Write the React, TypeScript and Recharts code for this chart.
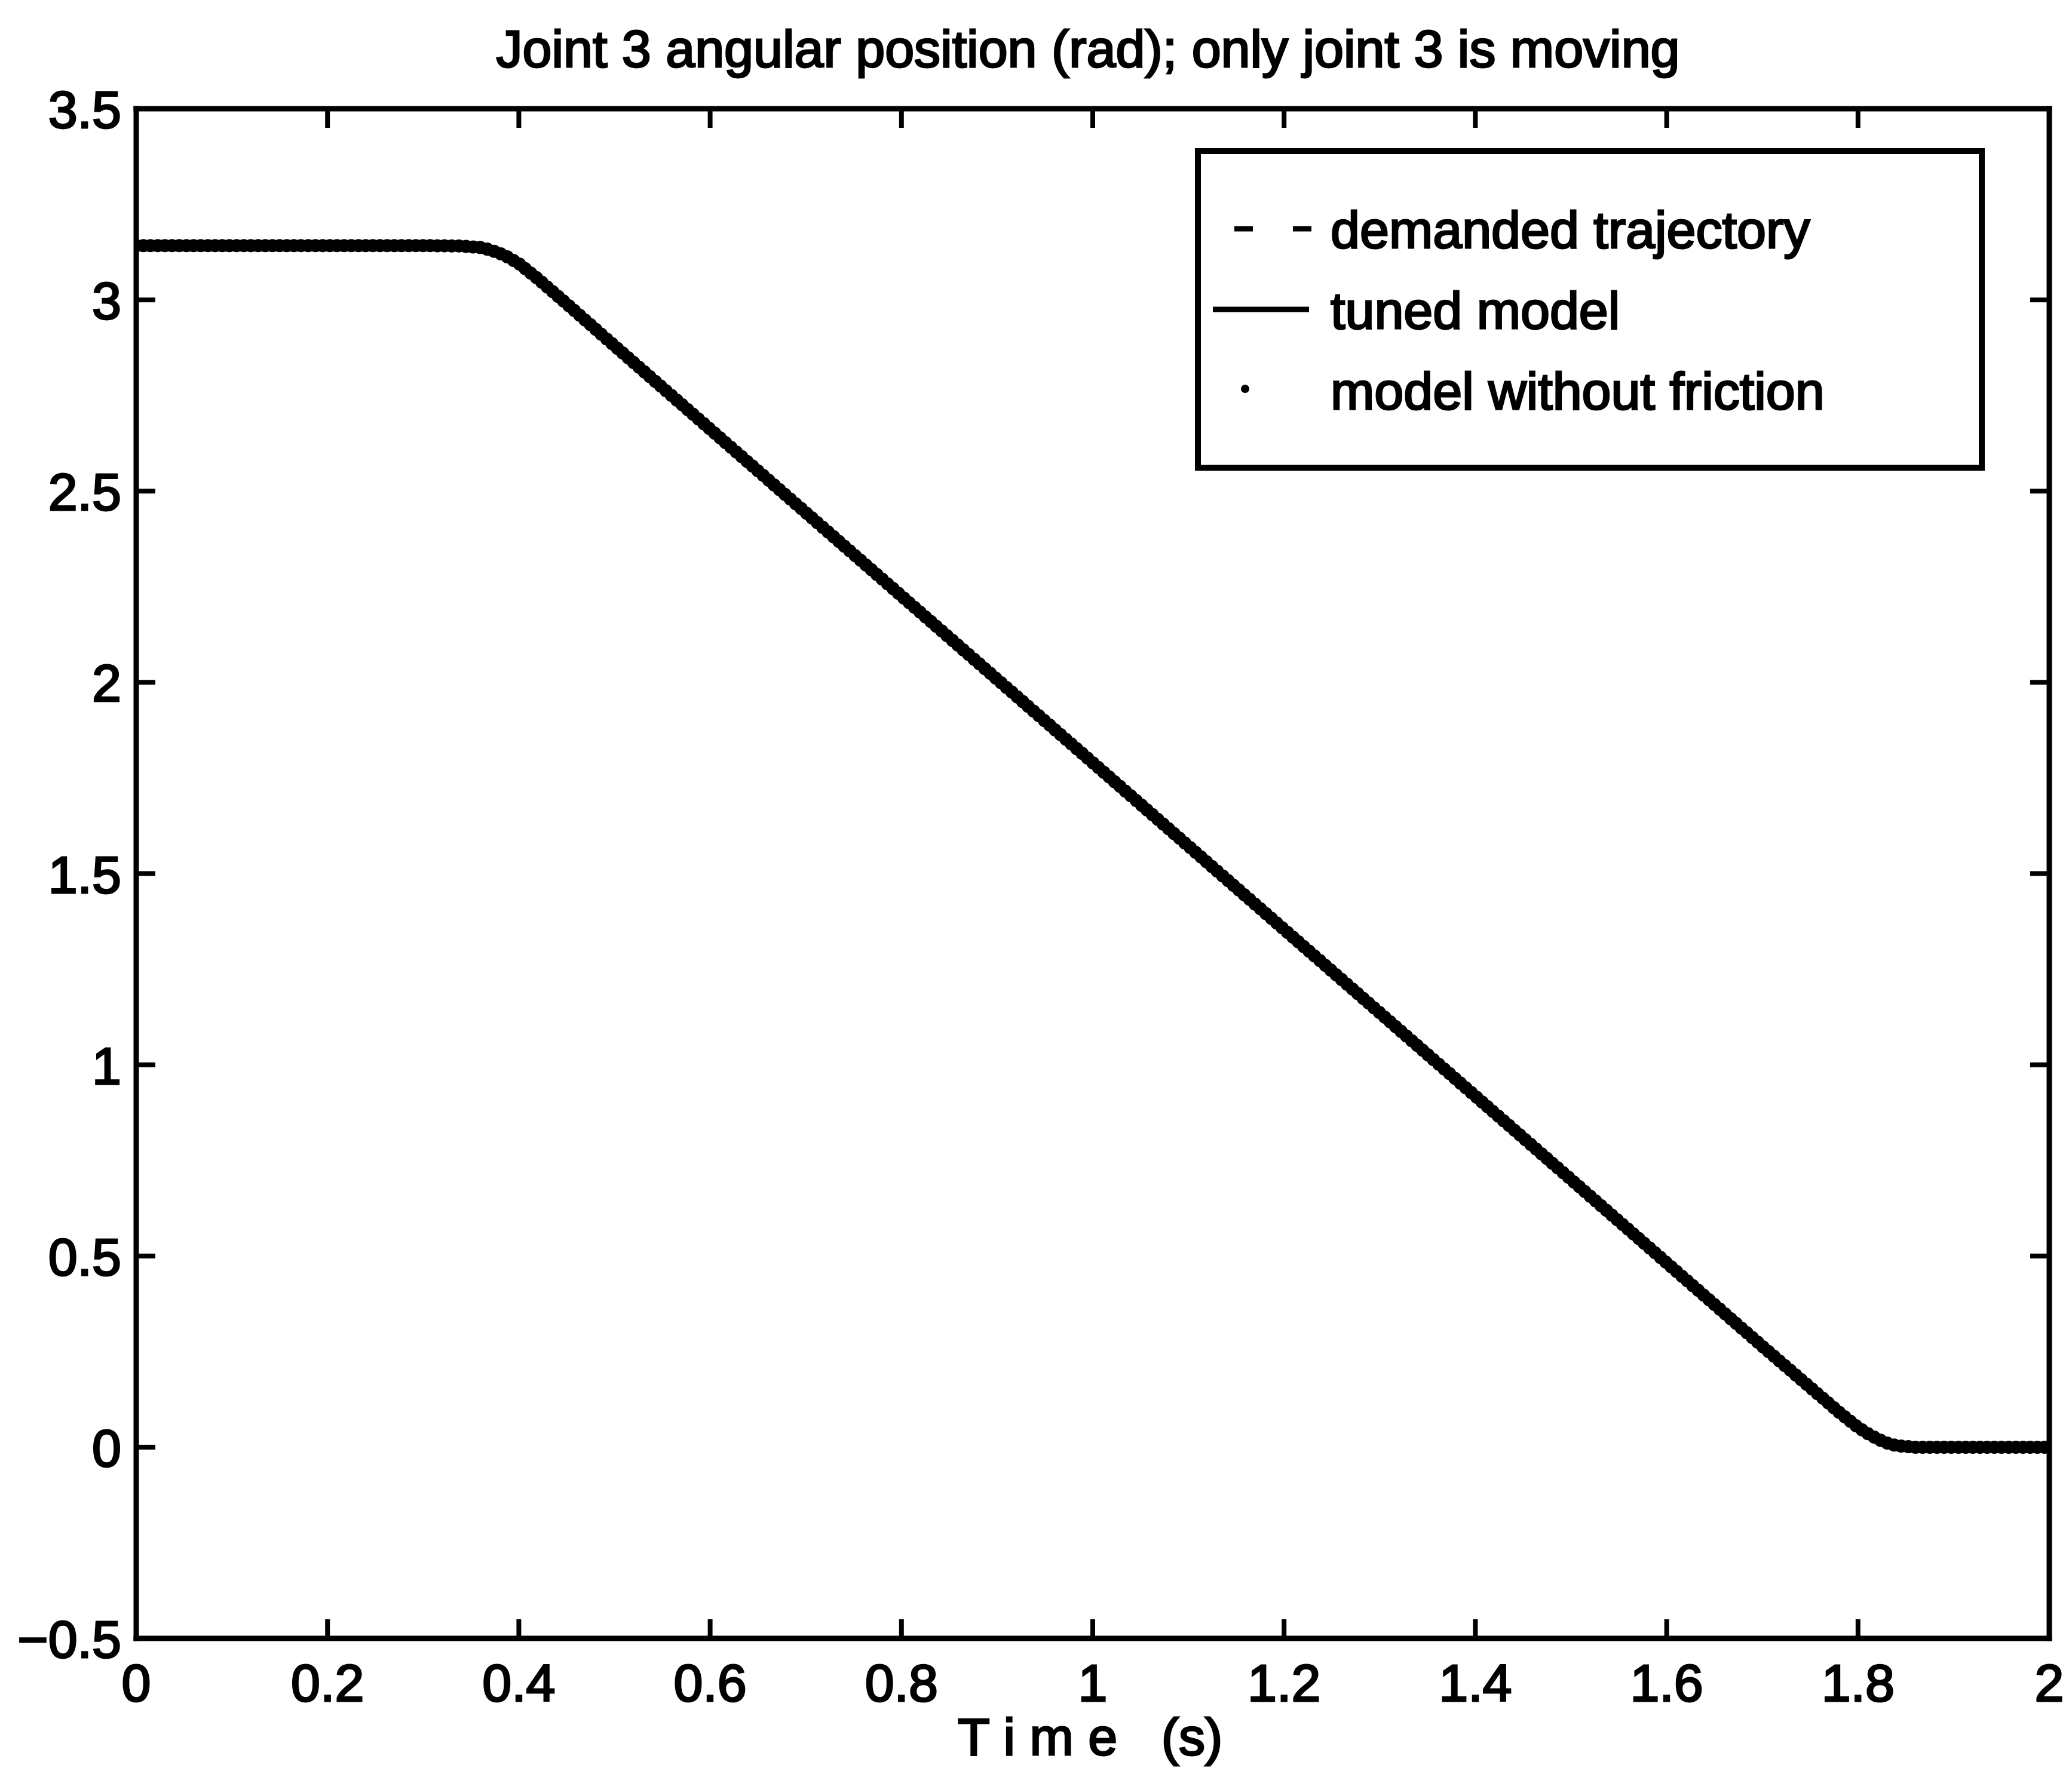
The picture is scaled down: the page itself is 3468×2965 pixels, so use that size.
import React from 'react';
import { LineChart, Line, XAxis, YAxis, Legend } from 'recharts';

const W = 3468;
const H = 2965;
const FONT = "'Liberation Sans', Arial, Helvetica, sans-serif";

// Time samples (s) and joint angle values (rad)
const time = [0, 0.1, 0.2, 0.3, 0.34, 0.36, 0.37, 0.38, 0.39, 0.40, 0.42, 0.45, 0.5, 0.6, 0.8, 1.0, 1.2, 1.4, 1.6, 1.7, 1.78, 1.80, 1.81, 1.82, 1.83, 1.84, 1.86, 1.9, 2.0];
const demanded = [3.142, 3.142, 3.142, 3.142, 3.141, 3.137, 3.131, 3.122, 3.110, 3.095, 3.055, 2.990, 2.880, 2.662, 2.226, 1.790, 1.354, 0.918, 0.482, 0.264, 0.092, 0.052, 0.036, 0.022, 0.011, 0.004, 0.0, 0.0, 0.0];
const tunedModel = [3.142, 3.142, 3.142, 3.142, 3.141, 3.137, 3.131, 3.122, 3.110, 3.095, 3.055, 2.990, 2.880, 2.662, 2.226, 1.790, 1.354, 0.918, 0.482, 0.264, 0.092, 0.052, 0.036, 0.022, 0.011, 0.004, 0.0, 0.0, 0.0];
const modelWithoutFriction = [3.142, 3.142, 3.142, 3.142, 3.141, 3.137, 3.131, 3.122, 3.110, 3.095, 3.055, 2.990, 2.880, 2.662, 2.226, 1.790, 1.354, 0.918, 0.482, 0.264, 0.092, 0.052, 0.036, 0.022, 0.011, 0.004, 0.0, 0.0, 0.0];

const xTicks = [0, 0.2, 0.4, 0.6, 0.8, 1, 1.2, 1.4, 1.6, 1.8, 2];
const yTicks = [-0.5, 0, 0.5, 1, 1.5, 2, 2.5, 3, 3.5];

const titleText = 'Joint 3 angular position (rad); only joint 3 is moving';
const xLabelText = 'T i m e   (s)';
const legendLabels = ['demanded trajectory', 'tuned model', 'model without friction'];

const data = time.map((t, i) => ({
  t,
  demanded: demanded[i],
  tuned: tunedModel[i],
  noFriction: modelWithoutFriction[i],
}));

const TICK = 32;
const txt: React.CSSProperties = {
  fontFamily: FONT,
  fontSize: 88,
  fill: '#000',
  stroke: '#000',
  strokeWidth: 3,
};

const fmtX = (v: number) => String(Math.round(v * 10) / 10);
const fmtY = (v: number) => {
  const r = Math.round(v * 10) / 10;
  return r < 0 ? '\u2212' + String(-r) : String(r);
};

const BottomTick = (p: any) => (
  <g>
    <line x1={p.x} y1={p.y} x2={p.x} y2={p.y - TICK} stroke="#000" strokeWidth={8} />
    <text x={p.x} y={p.y + 105} textAnchor="middle" style={txt}>
      {fmtX(p.payload.value)}
    </text>
  </g>
);

const TopTick = (p: any) => (
  <line x1={p.x} y1={p.y} x2={p.x} y2={p.y + TICK} stroke="#000" strokeWidth={8} />
);

const LeftTick = (p: any) => (
  <g>
    <line x1={p.x} y1={p.y} x2={p.x + TICK} y2={p.y} stroke="#000" strokeWidth={8} />
    <text x={p.x - 25} y={p.y + 32} textAnchor="end" style={txt}>
      {fmtY(p.payload.value)}
    </text>
  </g>
);

const RightTick = (p: any) => (
  <line x1={p.x} y1={p.y} x2={p.x - TICK} y2={p.y} stroke="#000" strokeWidth={8} />
);

const LBX = 2000;
const LBY = 248;
const LBW = 1322;
const LBH = 540;

const LegendBox = () => (
  <div
    style={{
      width: LBW,
      height: LBH,
      border: '10px solid #000',
      boxSizing: 'border-box',
      background: '#fff',
      position: 'relative',
    }}
  >
    <svg width={LBW} height={LBH} style={{ position: 'absolute', left: -10, top: -10 }}>
      <line x1={66} y1={135} x2={195} y2={135} stroke="#000" strokeWidth={9} strokeDasharray="31 67" />
      <line x1={30} y1={270} x2={191} y2={270} stroke="#000" strokeWidth={9} />
      <circle cx={84} cy={403} r={7} fill="#000" />
      {legendLabels.map((l, i) => (
        <text key={l} x={227} y={167 + i * 135} style={txt}>
          {l}
        </text>
      ))}
    </svg>
  </div>
);

const axisLineStyle = { stroke: '#000', strokeWidth: 9, strokeLinecap: 'square' as const };

export default function App() {
  return (
    <div style={{ position: 'absolute', left: 0, top: 0, width: W, height: H, background: '#fff' }}>
      <LineChart
        width={W}
        height={H}
        data={data}
        margin={{ top: 181, right: 37, bottom: 221, left: 227 }}
      >
        <XAxis
          xAxisId="b"
          dataKey="t"
          type="number"
          domain={[0, 2]}
          ticks={xTicks}
          allowDataOverflow
          height={1}
          tickSize={0}
          tickMargin={0}
          tickLine={false}
          axisLine={axisLineStyle}
          tick={<BottomTick />}
          interval={0}
        />
        <XAxis
          xAxisId="top"
          orientation="top"
          dataKey="t"
          type="number"
          domain={[0, 2]}
          ticks={xTicks}
          allowDataOverflow
          height={1}
          tickSize={0}
          tickMargin={0}
          tickLine={false}
          axisLine={axisLineStyle}
          tick={<TopTick />}
          interval={0}
        />
        <YAxis
          yAxisId="l"
          type="number"
          domain={[-0.5, 3.5]}
          ticks={yTicks}
          allowDataOverflow
          width={1}
          tickSize={0}
          tickMargin={0}
          tickLine={false}
          axisLine={axisLineStyle}
          tick={<LeftTick />}
          interval={0}
        />
        <YAxis
          yAxisId="r"
          orientation="right"
          type="number"
          domain={[-0.5, 3.5]}
          ticks={yTicks}
          allowDataOverflow
          width={1}
          tickSize={0}
          tickMargin={0}
          tickLine={false}
          axisLine={axisLineStyle}
          tick={<RightTick />}
          interval={0}
        />
        <Line
          xAxisId="b"
          yAxisId="l"
          type="linear"
          dataKey="noFriction"
          name={legendLabels[2]}
          stroke="#000"
          strokeWidth={22}
          strokeDasharray="0 12"
          strokeLinecap="round"
          dot={false}
          isAnimationActive={false}
        />
        <Line
          xAxisId="b"
          yAxisId="l"
          type="linear"
          dataKey="tuned"
          name={legendLabels[1]}
          stroke="#000"
          strokeWidth={18}
          dot={false}
          isAnimationActive={false}
        />
        <Line
          xAxisId="b"
          yAxisId="l"
          type="linear"
          dataKey="demanded"
          name={legendLabels[0]}
          stroke="#000"
          strokeWidth={18}
          strokeDasharray="40 20"
          dot={false}
          isAnimationActive={false}
        />
        <Legend
          layout="vertical"
          align="center"
          verticalAlign="middle"
          content={() => <LegendBox />}
          wrapperStyle={{ left: LBX, top: LBY, width: LBW, height: LBH, margin: 0, padding: 0 }}
        />
        <text x={1821} y={112} textAnchor="middle" style={txt}>
          {titleText}
        </text>
        <text x={1603} y={2938} textAnchor="start" style={{ ...txt, whiteSpace: 'pre' }} xmlSpace="preserve">
          {xLabelText}
        </text>
      </LineChart>
    </div>
  );
}
